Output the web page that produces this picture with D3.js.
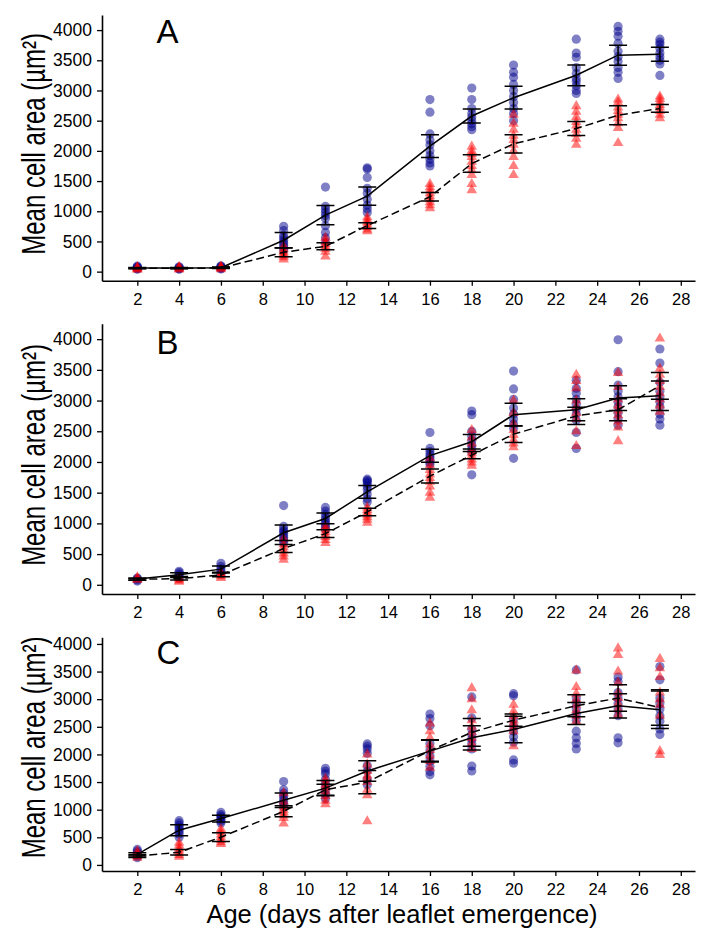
<!DOCTYPE html>
<html><head><meta charset="utf-8">
<script src="https://cdn.jsdelivr.net/npm/d3@7/dist/d3.min.js"></script>
<style>body{margin:0;background:#fff}svg{display:block}</style>
</head><body><svg id="chart" width="709" height="943"></svg>
<script>
// ---------- data ----------
const days = [2, 4, 6, 9, 11, 13, 16, 18, 20, 23, 25, 27];
const xTicks = [2, 4, 6, 8, 10, 12, 14, 16, 18, 20, 22, 24, 26, 28];
const yTicks = [0, 500, 1000, 1500, 2000, 2500, 3000, 3500, 4000];
const panelLabels = ["A", "B", "C"];
const xTitle = "Age (days after leaflet emergence)";
const yTitle = "Mean cell area (µm²)";

// Panel A
const aBlueMean = [60, 60, 65, 520, 936, 1250, 2078, 2577, 2881, 3252, 3585, 3602];
const aBlueSE   = [10, 10, 10, 127, 158, 152, 189, 116, 188, 172, 166, 116];
const aRedMean  = [55, 55, 60, 320, 420, 762, 1240, 1790, 2116, 2370, 2590, 2702];
const aRedSE    = [8, 8, 8, 75, 58, 47, 72, 144, 152, 116, 158, 64];
const aBluePts = [
  [40, 50, 60, 70, 80, 90],
  [40, 50, 60, 70, 80],
  [45, 55, 65, 75, 85, 95],
  [750, 680, 600, 560, 520, 480, 440, 400, 360],
  [1400, 1080, 1030, 980, 930, 880, 760, 650, 560, 480],
  [1720, 1700, 1560, 1380, 1300, 1200, 1100, 1040, 980],
  [2850, 2640, 2280, 2180, 2100, 2000, 1920, 1860, 1800, 1750],
  [3040, 2850, 2700, 2620, 2560, 2500, 2450, 2400, 2350],
  [3420, 3300, 3220, 3100, 3000, 2900, 2800, 2700, 2620, 2500],
  [3850, 3620, 3550, 3380, 3280, 3200, 3150, 3080, 3000, 2950],
  [4060, 3980, 3900, 3780, 3650, 3560, 3480, 3380, 3300, 3200],
  [3850, 3800, 3760, 3700, 3620, 3560, 3500, 3440, 3250]
];
const aRedPts = [
  [30, 45, 60, 75],
  [35, 50, 65, 80],
  [40, 55, 70, 85],
  [420, 370, 330, 300, 270, 240, 200],
  [560, 500, 460, 420, 380, 330, 250],
  [900, 860, 820, 780, 740, 700, 670],
  [1450, 1400, 1350, 1300, 1250, 1200, 1150, 1100, 1050],
  [2070, 2000, 1950, 1900, 1820, 1750, 1680, 1600, 1450, 1350],
  [2600, 2450, 2350, 2250, 2180, 2100, 2000, 1900, 1750, 1600],
  [2740, 2650, 2560, 2480, 2420, 2350, 2280, 2200, 2100],
  [2850, 2800, 2720, 2660, 2600, 2540, 2460, 2380, 2130],
  [2900, 2860, 2810, 2760, 2720, 2660, 2600, 2540]
];

// Panel B
const bBlueMean = [93, 165, 255, 847, 1080, 1514, 2103, 2330, 2770, 2850, 3040, 3080];
const bBlueSE   = [15, 30, 50, 125, 87, 103, 106, 117, 185, 180, 200, 240];
const bRedMean  = [90, 100, 160, 590, 833, 1186, 1770, 2111, 2453, 2750, 2850, 3240];
const bRedSE    = [15, 20, 30, 65, 62, 62, 114, 60, 136, 140, 180, 217];
const bBluePts = [
  [60, 80, 100, 110],
  [110, 140, 170, 200, 220],
  [180, 220, 260, 300, 350],
  [1290, 950, 900, 870, 840, 800, 760, 720, 680],
  [1260, 1200, 1150, 1100, 1060, 1020, 980, 940, 900],
  [1720, 1700, 1680, 1650, 1600, 1550, 1480, 1400, 1350],
  [2480, 2220, 2170, 2120, 2080, 2040, 2000, 1960],
  [2830, 2770, 2500, 2420, 2350, 2280, 2220, 2160, 1790],
  [3480, 3190, 3020, 2880, 2780, 2700, 2620, 2550, 2060],
  [3330, 3200, 3120, 3020, 2940, 2860, 2780, 2680, 2480, 2220],
  [3990, 3470, 3250, 3150, 3060, 2980, 2900, 2800, 2700, 2600],
  [3840, 3610, 3300, 3150, 3050, 2980, 2900, 2780, 2700, 2600]
];
const bRedPts = [
  [80, 100, 120],
  [50, 70, 90, 110],
  [110, 140, 170, 190],
  [750, 660, 610, 560, 510, 460, 410],
  [950, 900, 860, 820, 780, 730, 680],
  [1260, 1220, 1180, 1140, 1100, 1060, 1010],
  [2060, 1950, 1870, 1800, 1740, 1680, 1600, 1500, 1420],
  [2520, 2400, 2300, 2200, 2150, 2100, 2040, 1990, 1940],
  [3000, 2800, 2620, 2520, 2440, 2360, 2300, 2240],
  [3420, 3320, 3200, 3000, 2900, 2800, 2700, 2500, 2260],
  [3450, 3220, 3020, 2920, 2840, 2760, 2660, 2560, 2340],
  [4010, 3520, 3420, 3320, 3220, 3120, 3020, 2920, 2820]
];

// Panel C
const cBlueMean = [190, 629, 839, 1170, 1390, 1700, 2060, 2300, 2450, 2740, 2880, 2810];
const cBlueSE   = [30, 100, 60, 130, 140, 185, 195, 220, 240, 200, 220, 340];
const cRedMean  = [160, 230, 502, 970, 1360, 1500, 2070, 2400, 2620, 2880, 3020, 2850];
const cRedSE    = [25, 50, 80, 100, 100, 210, 195, 250, 110, 200, 240, 320];
const cBluePts = [
  [280, 250, 220, 190, 160, 130],
  [800, 760, 720, 680, 640, 600, 560, 500],
  [950, 910, 880, 850, 820, 790, 760],
  [1510, 1360, 1300, 1250, 1200, 1150, 1100, 1050],
  [1750, 1700, 1650, 1550, 1480, 1420, 1350, 1280, 1200],
  [2190, 2150, 2100, 2020, 1800, 1700, 1550, 1450],
  [2730, 2650, 2520, 2200, 2080, 1980, 1880, 1780, 1690, 1630],
  [3040, 2660, 2460, 2360, 2280, 2200, 2100, 1790, 1700],
  [3100, 3060, 2640, 2520, 2420, 2320, 2220, 1900, 1840],
  [3530, 3020, 2920, 2820, 2720, 2620, 2420, 2300, 2200, 2100],
  [3400, 3320, 3120, 3020, 2920, 2820, 2700, 2300, 2210],
  [3590, 3350, 3020, 2920, 2820, 2700, 2600, 2460, 2360]
];
const cRedPts = [
  [250, 200, 160, 130],
  [400, 350, 300, 260, 220, 180, 150],
  [650, 600, 550, 500, 450, 410, 380],
  [1300, 1150, 1060, 1000, 950, 900, 850, 750],
  [1560, 1500, 1450, 1400, 1340, 1250, 1160, 1100],
  [2000, 1820, 1700, 1620, 1560, 1500, 1360, 1260, 790],
  [2560, 2420, 2300, 2180, 2080, 1980, 1880, 1760],
  [3200, 3000, 2800, 2620, 2500, 2400, 2300, 2200, 2100],
  [2900, 2780, 2700, 2620, 2560, 2500, 2420, 2150],
  [3520, 3220, 3100, 3000, 2900, 2800, 2700, 2600],
  [3920, 3800, 3500, 3300, 3120, 3020, 2920, 2820, 2720],
  [3730, 3560, 3400, 3120, 3000, 2900, 2700, 2060, 1990]
];

// ---------- layout ----------
const FONT = "'Liberation Sans', Arial, Helvetica, sans-serif";
const panels = [
  {label: panelLabels[0], top: 15,    bottom: 280.7, domain: [-150, 4250], labelY: 42.5,
   blueMean: aBlueMean, blueSE: aBlueSE, redMean: aRedMean, redSE: aRedSE, bluePts: aBluePts, redPts: aRedPts},
  {label: panelLabels[1], top: 323.8, bottom: 594,   domain: [-150, 4250], labelY: 354,
   blueMean: bBlueMean, blueSE: bBlueSE, redMean: bRedMean, redSE: bRedSE, bluePts: bBluePts, redPts: bRedPts},
  {label: panelLabels[2], top: 637.3, bottom: 871,   domain: [-110, 4120], labelY: 664,
   blueMean: cBlueMean, blueSE: cBlueSE, redMean: cRedMean, redSE: cRedSE, bluePts: cBluePts, redPts: cRedPts}
];

const svg = d3.select("#chart");
const x = d3.scaleLinear().domain([0.31, 28.68]).range([102, 695]);
const tri = d3.symbol().type(d3.symbolTriangle).size(48);

panels.forEach((p, pi) => {
  const y = d3.scaleLinear().domain(p.domain).range([p.bottom, p.top]);
  const g = svg.append("g");

  // points
  const blueFlat = p.bluePts.flatMap((vals, i) => vals.map(v => ({d: days[i], v})));
  const redFlat = p.redPts.flatMap((vals, i) => vals.map(v => ({d: days[i], v})));
  g.append("g").selectAll("circle").data(blueFlat).join("circle")
    .attr("cx", d => x(d.d)).attr("cy", d => y(d.v)).attr("r", 4.6)
    .attr("fill", "#00008B").attr("fill-opacity", 0.5);
  g.append("g").selectAll("path").data(redFlat).join("path")
    .attr("d", tri)
    .attr("transform", d => `translate(${x(d.d)},${y(d.v)})`)
    .attr("fill", "#FF0000").attr("fill-opacity", 0.5);

  // mean lines
  const line = d3.line().x((d, i) => x(days[i])).y(d => y(d));
  g.append("path").datum(p.blueMean).attr("d", line)
    .attr("fill", "none").attr("stroke", "#000").attr("stroke-width", 1.5);
  g.append("path").datum(p.redMean).attr("d", line)
    .attr("fill", "none").attr("stroke", "#000").attr("stroke-width", 1.5)
    .attr("stroke-dasharray", "8,4");

  // error bars
  const errs = [];
  days.forEach((d, i) => {
    errs.push({d, m: p.blueMean[i], s: p.blueSE[i]});
    errs.push({d, m: p.redMean[i], s: p.redSE[i]});
  });
  const eg = g.append("g").attr("stroke", "#000").attr("stroke-width", 1.5).attr("fill", "none");
  eg.selectAll("path").data(errs).join("path")
    .attr("d", e => {
      const cx = x(e.d), y1 = y(e.m - e.s), y2 = y(e.m + e.s);
      return `M${cx},${y1}V${y2}M${cx - 9},${y1}H${cx + 9}M${cx - 9},${y2}H${cx + 9}`;
    });

  // axes
  const yAxis = d3.axisLeft(y).tickValues(yTicks).tickFormat(d3.format("d"))
    .tickSize(5).tickSizeOuter(0).tickPadding(5);
  const ya = g.append("g").attr("transform", "translate(102,0)").call(yAxis);
  const xAxis = d3.axisBottom(x).tickValues(xTicks).tickFormat(d3.format("d"))
    .tickSize(5).tickSizeOuter(0).tickPadding(6);
  const xa = g.append("g").attr("transform", `translate(0,${p.bottom})`).call(xAxis);
  [ya, xa].forEach(a => {
    a.select(".domain").attr("stroke", "#000").attr("stroke-width", 1.6);
    a.selectAll(".tick line").attr("stroke", "#000").attr("stroke-width", 1.3);
    a.selectAll("text").attr("fill", "#000").attr("font-family", FONT);
  });
  ya.selectAll("text").attr("font-size", 17.5);
  xa.selectAll("text").attr("font-size", 16.5).attr("dy", null).attr("y", 24)
    .attr("dominant-baseline", "alphabetic");

  // panel label
  g.append("text").attr("x", 156.5).attr("y", p.labelY).text(p.label)
    .attr("font-family", FONT).attr("font-size", 33).attr("fill", "#000");

  // y title
  const yc = (y(0) + y(4000)) / 2 - 7;
  g.append("text")
    .attr("transform", `translate(45,${yc}) rotate(-90) scale(1,1.35)`)
    .attr("text-anchor", "middle")
    .attr("font-family", FONT).attr("font-size", 24).attr("fill", "#000")
    .text(yTitle);
});

svg.append("text").attr("x", 402).attr("y", 923).attr("text-anchor", "middle")
  .attr("font-family", FONT).attr("font-size", 25.5).attr("fill", "#000")
  .text(xTitle);
</script>
</body></html>
